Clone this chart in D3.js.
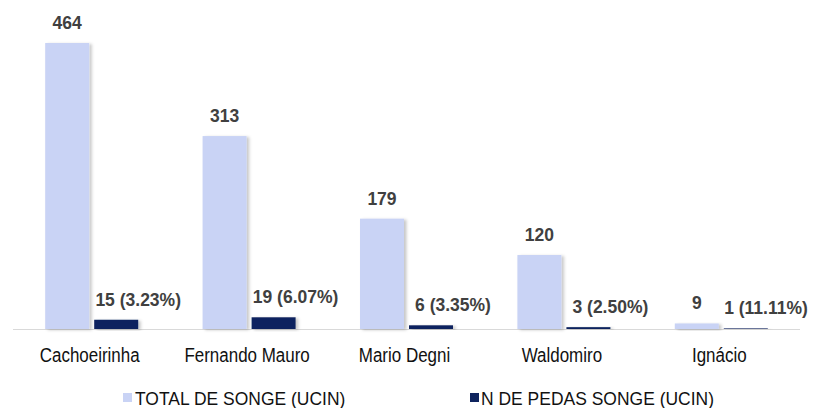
<!DOCTYPE html>
<html>
<head>
<meta charset="utf-8">
<script src="https://cdn.jsdelivr.net/npm/d3@7"></script>
<style>
  html, body { margin: 0; padding: 0; background: #fff; }
  svg { display: block; font-family: "Liberation Sans", Arial, sans-serif; }
</style>
</head>
<body>
<svg id="chart" width="815" height="408"></svg>
<script>
const categories = ["Cachoeirinha", "Fernando Mauro", "Mario Degni", "Waldomiro", "Ignácio"];
const totalValues = [464, 313, 179, 120, 9];
const pedasValues = [15, 19, 6, 3, 1];
const pedasLabels = ["15 (3.23%)", "19 (6.07%)", "6 (3.35%)", "3 (2.50%)", "1 (11.11%)"];
const seriesNames = ["TOTAL DE SONGE (UCIN)", "N DE PEDAS SONGE (UCIN)"];
const colors = ["#c9d3f5", "#0f245e"];

const svg = d3.select("#chart");
const left = 13, right = 800, baseY = 329;
const barW = 44, gap = 5;

const x = d3.scaleBand().domain(categories).range([left, right]).paddingInner(0).paddingOuter(0);
const y = d3.scaleLinear().domain([0, 500]).range([baseY, baseY - 500 * 286 / 464]);

const defs = svg.append("defs");
const f = defs.append("filter").attr("id", "shadow").attr("x", "-20%").attr("y", "-20%").attr("width", "150%").attr("height", "140%");
f.append("feDropShadow").attr("dx", 2.5).attr("dy", 1).attr("stdDeviation", 1.6)
  .attr("flood-color", "#000").attr("flood-opacity", 0.22);

// axis line
svg.append("line").attr("x1", left).attr("x2", right).attr("y1", baseY + 0.5).attr("y2", baseY + 0.5)
  .attr("stroke", "#d9d9d9").attr("stroke-width", 1);

const groupStart = c => x(c) + (x.bandwidth() - (2 * barW + gap)) / 2;

const g = svg.append("g");
// total bars
g.selectAll("rect.total").data(categories).join("rect").attr("class", "total")
  .attr("x", (c) => groupStart(c))
  .attr("y", (c, i) => y(totalValues[i]))
  .attr("width", barW)
  .attr("height", (c, i) => baseY - y(totalValues[i]))
  .attr("fill", colors[0])
  .attr("filter", "url(#shadow)");
// pedas bars
g.selectAll("rect.pedas").data(categories).join("rect").attr("class", "pedas")
  .attr("x", (c) => groupStart(c) + barW + gap)
  .attr("y", (c, i) => y(pedasValues[i]))
  .attr("width", barW)
  .attr("height", (c, i) => baseY - y(pedasValues[i]))
  .attr("fill", colors[1])
  .attr("filter", "url(#shadow)");

// labels
svg.selectAll("text.tl").data(categories).join("text").attr("class", "tl")
  .attr("x", c => groupStart(c) + barW / 2)
  .attr("y", (c, i) => y(totalValues[i]) - 14)
  .attr("text-anchor", "middle")
  .attr("font-size", 17.5).attr("font-weight", "bold").attr("fill", "#404040")
  .text((c, i) => totalValues[i]);

svg.selectAll("text.pl").data(categories).join("text").attr("class", "pl")
  .attr("x", c => Math.min(groupStart(c) + 2 * barW + gap, 766))
  .attr("y", (c, i) => y(pedasValues[i]) - 14)
  .attr("text-anchor", "middle")
  .attr("font-size", 17.5).attr("font-weight", "bold").attr("fill", "#404040")
  .text((c, i) => pedasLabels[i]);

// category labels
svg.selectAll("text.cat").data(categories).join("text").attr("class", "cat")
  .attr("transform", c => `translate(${x(c) + x.bandwidth() / 2 - 2},362) scale(0.87,1)`)
  .attr("text-anchor", "middle")
  .attr("font-size", 19.5).attr("fill", "#111")
  .text(c => c);

// legend
const legendItems = [
  { name: seriesNames[0], color: colors[0], sx: 123, tx: 135 },
  { name: seriesNames[1], color: colors[1], sx: 470, tx: 481 }
];
const lg = svg.selectAll("g.leg").data(legendItems).join("g").attr("class", "leg");
lg.append("rect").attr("x", d => d.sx).attr("y", 393).attr("width", 9).attr("height", 9).attr("fill", d => d.color);
lg.append("text")
  .attr("transform", d => `translate(${d.tx},405) scale(0.92,1)`)
  .attr("font-size", 19).attr("fill", "#111")
  .text(d => d.name);
</script>
</body>
</html>
